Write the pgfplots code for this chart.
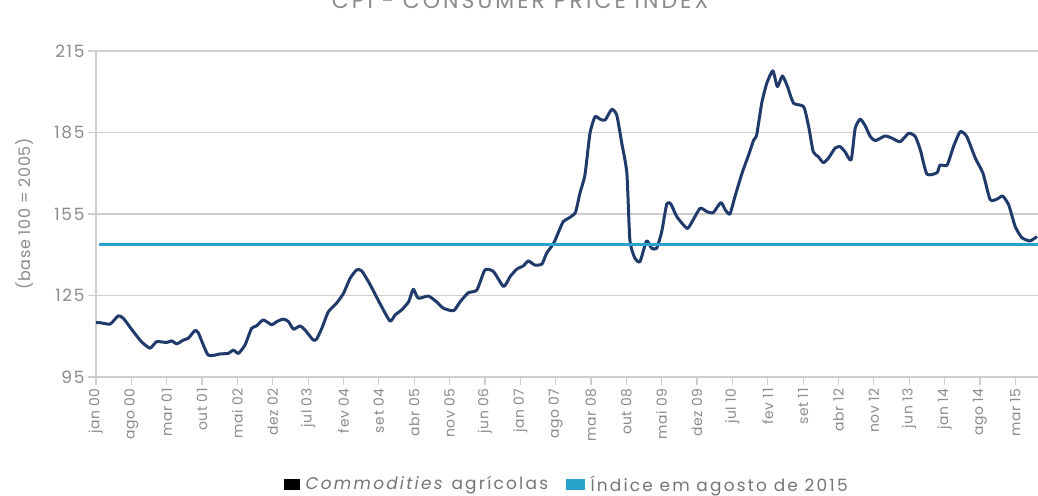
\documentclass[border=0pt]{standalone}
\usepackage{fontspec}
\setmainfont{Poppins}
\usepackage{pgfplots}
\pgfplotsset{compat=1.18}
\definecolor{navy}{HTML}{1F3A6B}
\definecolor{cyanl}{HTML}{2AA3CC}
\definecolor{txt}{HTML}{8A8A8A}
\definecolor{gridc}{HTML}{CFCFCF}
\begin{document}
\begin{tikzpicture}[x=1bp,y=1bp]
\begin{axis}[
  at={(0,0)}, anchor=south west, scale only axis,
  width=942bp, height=326bp,
  xmin=0, xmax=186.5, ymin=95, ymax=215,
  ytick={95,125,155,185,215},
  xtick={0,7,...,182},
  xticklabels={jan 00,ago 00,mar 01,out 01,mai 02,dez 02,jul 03,fev 04,set 04,abr 05,nov 05,jun 06,jan 07,ago 07,mar 08,out 08,mai 09,dez 09,jul 10,fev 11,set 11,abr 12,nov 12,jun 13,jan 14,ago 14,mar 15},
  axis x line*=bottom, axis y line*=left,
  axis line style={gridc, line width=1.6bp},
  ymajorgrids, grid style={gridc, line width=1.6bp},
  tick style={gridc, line width=1.2bp},
  major tick length=8bp,
  tick align=outside,
  clip=false,
  /pgf/number format/assume math mode=true,
  y tick label style={font=\fontsize{17}{19}\selectfont\addfontfeatures{LetterSpace=10}, text=txt},
  x tick label style={rotate=90, anchor=east, font=\fontsize{14}{16}\selectfont\addfontfeatures{LetterSpace=4}, text=txt},
  ylabel={(base 100 = 2005)},
  ylabel style={at={(axis description cs:-0.0754,0.5)}, anchor=center, font=\fontsize{16}{18}\selectfont\addfontfeatures{LetterSpace=4}, text=txt},
  legend style={at={(axis description cs:0.500,-0.328)}, anchor=center, draw=none, fill=none,
    legend columns=2, font=\fontsize{17}{19}\selectfont\addfontfeatures{LetterSpace=13}, text=txt!85!black,
    /tikz/every odd column/.append style={column sep=4bp},
    /tikz/every even column/.append style={column sep=16bp}},
]
\addplot[navy, line width=3bp, line join=round, smooth, tension=0.35, forget plot] coordinates {
(0,115.0)(0.8,115.0)(2.8,114.5)(4.4,117.5)(5.4,116.6)(7.4,111.7)(9.0,108.0)(10.7,105.6)(12,108.0)(14,107.7)(15,108.3)(16,107.2)(17.3,108.6)(18.3,109.3)(19.6,112.1)(20.3,111.1)(22.2,103.1)(24.6,103.5)(26.2,103.7)(27.2,104.9)(28.2,103.7)(29.5,106.8)(30.8,112.9)(31.8,113.8)(33.1,116.0)(34.8,114.2)(35.8,115.4)(37.1,116.3)(38.1,115.4)(39.1,112.6)(40.4,113.8)(41.4,112.3)(43.0,108.6)(43.7,109.0)(44.7,112.9)(46,119.0)(47.6,122.1)(49,125.8)(50.3,131.3)(51.6,134.4)(52.6,134.1)(54.3,128.9)(56.2,122.1)(58.2,115.6)(59.2,117.8)(60.5,119.7)(61.9,122.7)(62.8,127.3)(63.8,124.0)(65.8,124.8)(67.4,122.7)(68.8,120.3)(70.8,119.4)(72.1,122.7)(73.7,126.0)(75.4,127.0)(77,134.4)(78.7,133.8)(80.7,128.3)(82,132.0)(83.3,134.7)(84.6,135.9)(85.6,137.7)(86.9,136.2)(88.3,136.6)(89.2,140.5)(90.6,144.2)(91.6,148.5)(92.5,152.2)(93.5,153.4)(94.9,155.5)(95.8,162.6)(96.8,169.4)(97.8,184.7)(98.8,190.8)(99.8,189.9)(100.8,189.6)(102.1,193.5)(103.1,191.4)(104.1,181.0)(105.1,170.0)(105.7,145.4)(106.7,138.7)(107.7,137.5)(109.0,145.1)(110.0,142.4)(111,142.4)(112.0,148.5)(113,158.7)(113.8,158.7)(115,154.0)(117,149.7)(117.9,151.8)(119.6,157.1)(120.9,155.9)(122.2,155.5)(123.7,159.2)(124.6,156.5)(125.5,155.0)(126.5,161.4)(127.9,170.0)(129.2,176.7)(130.2,182.2)(130.8,184.1)(131.8,195.8)(132.8,203.1)(134.0,207.7)(134.9,201.9)(135.9,205.8)(136.9,201.9)(138.1,195.8)(140.1,194.5)(141.1,187.1)(142.0,177.9)(143.0,176.1)(144.0,173.9)(145.0,175.5)(146.3,179.2)(147.3,179.8)(148.3,177.9)(149.5,174.9)(150.3,186.5)(151.3,189.9)(152.3,187.4)(153.3,183.5)(154.3,182.0)(156.2,183.7)(157.6,182.9)(159.2,181.6)(160.9,184.7)(162.2,183.5)(163.2,178.6)(164.5,169.7)(166.5,170.2)(167.1,173.0)(168.5,173.0)(169.8,180.0)(171.1,185.3)(172.4,183.5)(174.1,175.5)(175.6,170.0)(177.0,160.4)(178.3,160.4)(179.5,161.6)(180.7,158.3)(182,150.3)(183.3,146.3)(184.9,145.1)(186.3,146.7)
};
\addplot[cyanl, line width=3bp, forget plot] coordinates {(0.6,143.6) (186.5,143.6)};
\addlegendimage{legend image code/.code={\fill[black] (0bp,-5bp) rectangle (15bp,5bp);}}
\addlegendentry{\textit{Commodities} agrícolas}
\addlegendimage{legend image code/.code={\fill[cyanl] (0bp,-5bp) rectangle (18bp,5bp);}}
\addlegendentry{Índice em agosto de 2015}
\end{axis}
\node[anchor=base, text=txt, font=\fontsize{22}{24}\selectfont\addfontfeatures{LetterSpace=14}] at (424,368) {CPI - CONSUMER PRICE INDEX};
\pgfresetboundingbox
\path[use as bounding box] (-96,-119) rectangle (942,377);
\end{tikzpicture}
\end{document}
